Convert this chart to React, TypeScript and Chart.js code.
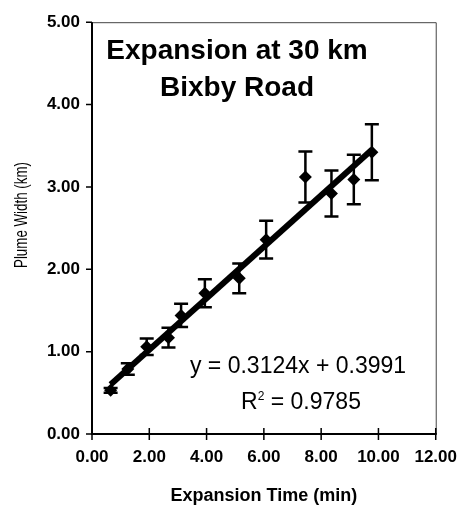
import React, { useEffect, useRef } from 'react';
import { Chart, registerables } from 'chart.js';

Chart.register(...registerables);

// ---- data ----
const expansionTime = [0.65, 1.25, 1.91, 2.67, 3.11, 3.94, 5.14, 6.08, 7.45, 8.36, 9.14, 9.77];
const plumeWidth = [0.53, 0.79, 1.06, 1.17, 1.44, 1.71, 1.89, 2.36, 3.12, 2.92, 3.09, 3.42];
const plumeError = [0.03, 0.07, 0.1, 0.12, 0.14, 0.17, 0.18, 0.23, 0.31, 0.28, 0.3, 0.34];
const xTicks = [0, 2, 4, 6, 8, 10, 12];
const yTicks = [0, 1, 2, 3, 4, 5];
const trendSlope = 0.3124;
const trendIntercept = 0.3991;
const titleLines = ['Expansion at 30 km', 'Bixby Road'];
const equationText = 'y = 0.3124x + 0.3991';
const r2Text = '0.9785';
const xTitle = 'Expansion Time (min)';
const yTitle = 'Plume Width (km)';

const FONT = '"Liberation Sans", Arial, Helvetica, sans-serif';

const overlay = {
  id: 'overlay',
  afterDatasetsDraw(chart: any) {
    const { ctx, chartArea: a, scales } = chart;
    const x = scales.x;
    const y = scales.y;
    ctx.save();
    // error bars
    ctx.strokeStyle = '#000';
    ctx.lineWidth = 2.5;
    expansionTime.forEach((t, i) => {
      const px = x.getPixelForValue(t);
      const top = y.getPixelForValue(plumeWidth[i] + plumeError[i]);
      const bot = y.getPixelForValue(plumeWidth[i] - plumeError[i]);
      ctx.beginPath();
      ctx.moveTo(px, top);
      ctx.lineTo(px, bot);
      ctx.moveTo(px - 7, top);
      ctx.lineTo(px + 7, top);
      ctx.moveTo(px - 7, bot);
      ctx.lineTo(px + 7, bot);
      ctx.stroke();
    });
    // frame
    ctx.strokeStyle = '#444';
    ctx.lineWidth = 1;
    ctx.beginPath();
    ctx.moveTo(a.left, a.top + 0.5);
    ctx.lineTo(a.right + 0.5, a.top + 0.5);
    ctx.lineTo(a.right + 0.5, a.bottom);
    ctx.stroke();
    ctx.strokeStyle = '#000';
    ctx.lineWidth = 2;
    ctx.beginPath();
    ctx.moveTo(a.left, a.top);
    ctx.lineTo(a.left, a.bottom);
    ctx.lineTo(a.right + 1, a.bottom);
    ctx.stroke();
    // ticks
    ctx.lineWidth = 1.5;
    ctx.beginPath();
    yTicks.forEach((v) => {
      const py = y.getPixelForValue(v);
      ctx.moveTo(a.left - 6, py);
      ctx.lineTo(a.left, py);
    });
    xTicks.forEach((v) => {
      const px = x.getPixelForValue(v);
      ctx.moveTo(px, a.bottom - 6);
      ctx.lineTo(px, a.bottom + 6);
    });
    ctx.stroke();
    // title inside plot
    ctx.fillStyle = '#000';
    ctx.textAlign = 'center';
    ctx.textBaseline = 'alphabetic';
    ctx.font = `bold 28px ${FONT}`;
    ctx.fillText(titleLines[0], 237, 59);
    ctx.fillText(titleLines[1], 237, 96);
    // equation
    ctx.font = `23px ${FONT}`;
    ctx.fillText(equationText, 298, 373);
    // R^2 line
    const rPart = 'R';
    const rest = ' = ' + r2Text;
    ctx.font = `23px ${FONT}`;
    const wR = ctx.measureText(rPart).width;
    const wRest = ctx.measureText(rest).width;
    ctx.font = `12px ${FONT}`;
    const wSup = ctx.measureText('2').width;
    const total = wR + wSup + wRest;
    let sx = 301 - total / 2;
    ctx.textAlign = 'left';
    ctx.font = `23px ${FONT}`;
    ctx.fillText(rPart, sx, 409);
    sx += wR;
    ctx.font = `12px ${FONT}`;
    ctx.fillText('2', sx, 400);
    sx += wSup;
    ctx.font = `23px ${FONT}`;
    ctx.fillText(rest, sx, 409);
    // y axis title (condensed, rotated)
    ctx.font = `19px ${FONT}`;
    const wy = ctx.measureText(yTitle).width;
    const squeeze = 106 / wy;
    ctx.translate(27, 215);
    ctx.rotate(-Math.PI / 2);
    ctx.scale(squeeze, 1);
    ctx.textAlign = 'center';
    ctx.textBaseline = 'alphabetic';
    ctx.fillText(yTitle, 0, 0);
    ctx.restore();
  },
};

export default function App() {
  const ref = useRef<HTMLCanvasElement>(null);
  useEffect(() => {
    if (!ref.current) return;
    const minX = Math.min(...expansionTime);
    const maxX = Math.max(...expansionTime);
    const chart = new Chart(ref.current, {
      type: 'scatter',
      data: {
        datasets: [
          {
            label: 'Plume width',
            data: expansionTime.map((t, i) => ({ x: t, y: plumeWidth[i] })),
            pointStyle: 'rectRot',
            pointRadius: 6.5,
            backgroundColor: '#000',
            borderColor: '#000',
            borderWidth: 0,
          },
          {
            label: 'Trend',
            type: 'line',
            data: [
              { x: minX, y: trendSlope * minX + trendIntercept },
              { x: maxX, y: trendSlope * maxX + trendIntercept },
            ],
            borderColor: '#000',
            borderWidth: 6,
            pointRadius: 0,
            showLine: true,
          } as any,
        ],
      },
      options: {
        animation: false,
        responsive: false,
        devicePixelRatio: 1,
        layout: { padding: { top: 13, right: 27, left: 0, bottom: 0 } },
        plugins: { legend: { display: false }, tooltip: { enabled: false } },
        scales: {
          x: {
            type: 'linear',
            min: 0,
            max: 12,
            afterBuildTicks: (s: any) => {
              s.ticks = xTicks.map((v) => ({ value: v }));
            },
            afterFit: (s: any) => {
              s.height = 77;
            },
            grid: { display: false, drawTicks: false },
            border: { display: false },
            ticks: {
              padding: 13,
              color: '#000',
              maxRotation: 0,
              font: { family: FONT, size: 17, weight: 'bold' },
              callback: (v: any) => Number(v).toFixed(2),
            },
            title: {
              display: true,
              text: xTitle,
              color: '#000',
              font: { family: FONT, size: 18, weight: 'bold' },
              padding: { top: 0, bottom: 4 },
            },
          },
          y: {
            type: 'linear',
            min: 0,
            max: 5,
            afterBuildTicks: (s: any) => {
              s.ticks = yTicks.map((v) => ({ value: v }));
            },
            afterFit: (s: any) => {
              s.width = 92;
            },
            grid: { display: false, drawTicks: false },
            border: { display: false },
            ticks: {
              padding: 12,
              color: '#000',
              font: { family: FONT, size: 17, weight: 'bold' },
              callback: (v: any) => Number(v).toFixed(2),
            },
            title: { display: false },
          },
        },
      },
      plugins: [overlay],
    });
    return () => chart.destroy();
  }, []);
  return (
    <div style={{ position: 'fixed', left: 0, top: 0, width: 470, height: 511, background: '#fff' }}>
      <canvas ref={ref} width={470} height={511} style={{ display: 'block' }} />
    </div>
  );
}
